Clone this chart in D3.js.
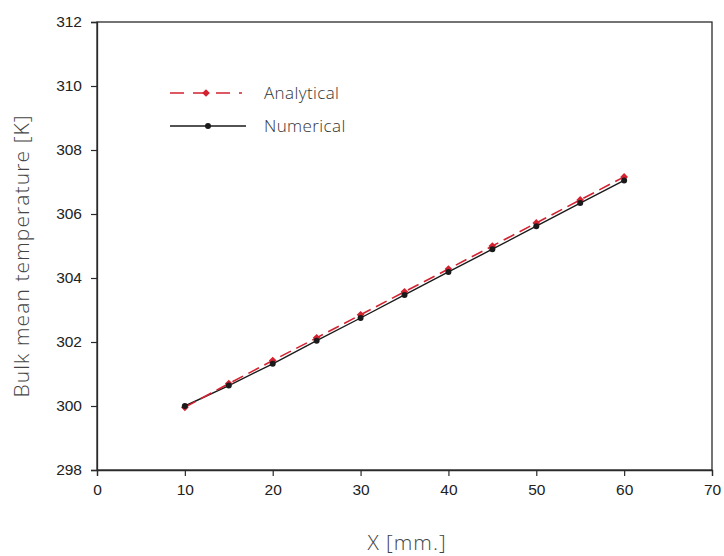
<!DOCTYPE html>
<html><head><meta charset="utf-8">
<script src="https://cdn.jsdelivr.net/npm/d3@7"></script>
<style>body{margin:0;background:#fff}svg{display:block}</style>
</head><body>
<script>
const xValues = [10, 15, 20, 25, 30, 35, 40, 45, 50, 55, 60];
const analytical = [299.96, 300.70, 301.42, 302.13, 302.85, 303.57, 304.28, 305.00, 305.72, 306.44, 307.16];
const numerical = [300.00, 300.64, 301.32, 302.04, 302.75, 303.47, 304.19, 304.90, 305.62, 306.34, 307.05];
const xTicks = [0, 10, 20, 30, 40, 50, 60, 70];
const yTicks = [298, 300, 302, 304, 306, 308, 310, 312];
const seriesNames = ["Analytical", "Numerical"];

const W = 724, H = 556;
const m = {left: 97, right: 12, top: 22, bottom: 86};
const svg = d3.select("body").append("svg").attr("width", W).attr("height", H);
const x = d3.scaleLinear().domain([0, 70]).range([m.left, W - m.right]);
const y = d3.scaleLinear().domain([298, 312]).range([H - m.bottom, m.top]);
const axisColor = "#2a2a2a";
const redC = "#d42231";

// frame
svg.append("rect").attr("x", x(0)).attr("y", y(312)).attr("width", x(70) - x(0)).attr("height", y(298) - y(312))
  .attr("fill", "none").attr("stroke", axisColor).attr("stroke-width", 1.3);

const gx = svg.append("g").attr("transform", `translate(0,${y(298)})`)
  .call(d3.axisBottom(x).tickValues(xTicks).tickSize(6).tickPadding(8).tickFormat(d3.format("d")));
const gy = svg.append("g").attr("transform", `translate(${x(0)},0)`)
  .call(d3.axisLeft(y).tickValues(yTicks).tickSize(6).tickPadding(9).tickFormat(d3.format("d")));
[gx, gy].forEach(g => {
  g.select(".domain").attr("stroke", axisColor).attr("stroke-width", 1.3);
  g.selectAll(".tick line").attr("stroke", axisColor).attr("stroke-width", 1.2);
  g.selectAll(".tick text").attr("fill", "#222").style("font-family", "'Liberation Sans', Arial, sans-serif").style("font-size", "15.5px");
});

const line = d3.line().x((d, i) => x(xValues[i])).y(d => y(d));

// numerical
svg.append("path").datum(numerical).attr("d", line).attr("fill", "none").attr("stroke", "#1a1a1a").attr("stroke-width", 1.4);
// analytical
svg.append("path").datum(analytical).attr("d", line).attr("fill", "none").attr("stroke", redC).attr("stroke-width", 1.6).attr("stroke-dasharray", "12,6");

const diamond = d3.symbol().type(d3.symbolSquare).size(30);
svg.append("g").selectAll("path").data(analytical).join("path")
  .attr("d", diamond).attr("transform", (d, i) => `translate(${x(xValues[i])},${y(d)}) rotate(45)`).attr("fill", redC);
svg.append("g").selectAll("circle").data(numerical).join("circle")
  .attr("cx", (d, i) => x(xValues[i])).attr("cy", d => y(d)).attr("r", 3).attr("fill", "#1a1a1a");

// legend
const lg = svg.append("g");
const lgFont = "'Open Sans', 'Noto Sans', sans-serif";
lg.append("line").attr("x1", 170).attr("x2", 242).attr("y1", 93).attr("y2", 93).attr("stroke", redC).attr("stroke-width", 1.6).attr("stroke-dasharray", "14,9");
lg.append("path").attr("d", diamond).attr("transform", "translate(206,93) rotate(45)").attr("fill", redC);
lg.append("text").attr("x", 264).attr("y", 99).text(seriesNames[0]).attr("fill", "#333").style("font-family", lgFont).style("font-size", "17px").style("font-weight", 300).style("letter-spacing", "0.4px");
lg.append("line").attr("x1", 170).attr("x2", 246).attr("y1", 126).attr("y2", 126).attr("stroke", "#1a1a1a").attr("stroke-width", 1.4);
lg.append("circle").attr("cx", 208).attr("cy", 126).attr("r", 3).attr("fill", "#1a1a1a");
lg.append("text").attr("x", 264).attr("y", 132).text(seriesNames[1]).attr("fill", "#333").style("font-family", lgFont).style("font-size", "17px").style("font-weight", 300).style("letter-spacing", "0.4px");

// axis titles
svg.append("text").attr("x", 407).attr("y", 550).attr("text-anchor", "middle").text("X [mm.]")
  .attr("fill", "#444").style("font-family", lgFont).style("font-size", "21px").style("font-weight", 300).style("letter-spacing", "1px");
svg.append("text").attr("transform", "translate(29,256) rotate(-90)").attr("text-anchor", "middle").text("Bulk mean temperature [K]")
  .attr("fill", "#444").style("font-family", lgFont).style("font-size", "21px").style("font-weight", 300).style("letter-spacing", "1.1px");
</script>
</body></html>
